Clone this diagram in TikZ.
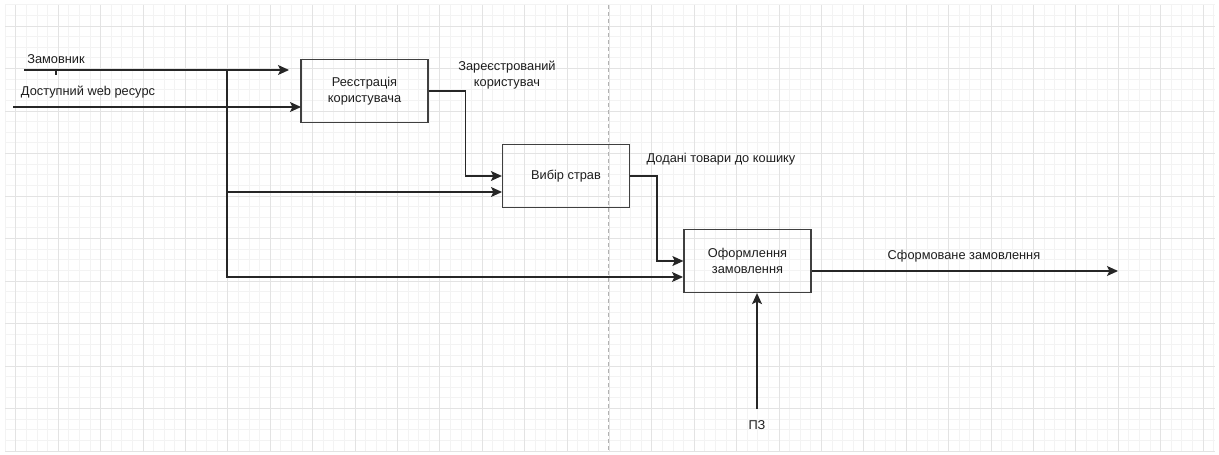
\documentclass[tikz,border=0pt]{standalone}
\usepackage{fontspec}
\setmainfont{Liberation Sans}
\usetikzlibrary{arrows.meta}
\definecolor{gridminor}{HTML}{F3F3F3}
\definecolor{gridmajor}{HTML}{E3E3E3}
\definecolor{ink}{HTML}{1E1E1E}
\tikzset{
  fun/.style={draw=black!75, line width=1.3pt, rectangle, minimum width=127pt, minimum height=63pt, align=center, font=\fontsize{12.8}{16}\selectfont, text=ink, inner sep=0pt},
  lab/.style={align=center, font=\fontsize{12.8}{16}\selectfont, text=ink, inner sep=0pt},
  arr/.style={draw=black!85, line width=1.2pt, -{Stealth[length=11pt,width=10pt,inset=2.5pt]}},
  ln/.style={draw=black!85, line width=1.2pt},
}
\begin{document}
\begin{tikzpicture}[x=1pt,y=-1pt]
\useasboundingbox (0,0) rectangle (1219,455);
\fill[white] (0,0) rectangle (1219,455);
% grid
\foreach \i in {0,...,114} {
  \draw[gridminor, line width=0.8pt] ({5.2+10.6*\i},5) -- ({5.2+10.6*\i},451);
}
\foreach \j in {0,...,42} {
  \draw[gridminor, line width=0.8pt] (5,{4.75+10.625*\j}) -- (1215,{4.75+10.625*\j});
}
\foreach \i in {0,...,28} {
  \draw[gridmajor, line width=0.9pt] ({15.8+42.4*\i},5) -- ({15.8+42.4*\i},451);
}
\foreach \j in {0,...,10} {
  \draw[gridmajor, line width=0.9pt] (5,{26+42.5*\j}) -- (1215,{26+42.5*\j});
}
\draw[black!30, line width=1pt, dash pattern=on 4pt off 3pt] (608,5) -- (608,451);

% boxes
\node[fun] (b1) at (364.5,91) {Реєстрація\\користувача};
\node[fun] (b2) at (566,176) {Вибір страв};
\node[fun] (b3) at (747.5,261) {Оформлення\\замовлення};

% coordinates
\coordinate (zamS) at (24,70);
\coordinate (zamE) at (289,70);
\coordinate (webS) at (13,107);
\coordinate (b1in2) at (301,107);
\coordinate (j) at (227,70);
\coordinate (jb2) at (227,192);
\coordinate (b2in2) at (502,192);
\coordinate (b3in2) at (683,277);
\coordinate (b3out) at (812,271);
\coordinate (outE) at (1118,271);
\coordinate (pzS) at (757,409);
\coordinate (tickA) at (56,70);
\coordinate (tickB) at (56,75);
\coordinate (k1) at (465.5,176);
\coordinate (k2) at (657,261);

% connectors
\draw[arr] (zamS) -- (zamE);
\draw[ln] (tickA) -- (tickB);
\draw[arr] (webS) -- (b1in2);
\draw[ln] (j) -- (jb2);
\draw[arr] (jb2) -- (b2in2);
\draw[arr] (j) |- (b3in2);
\draw[arr] (b1.east) -| (k1) -- (b2.west);
\draw[arr] (b2.east) -| (k2) -- (b3.west);
\draw[arr] (b3out) -- (outE);
\draw[arr] (pzS) -- (b3.south -| pzS);

% labels
\node[lab] (l1) at (56,59) {Замовник};
\node[lab] (l2) at (88,92) {Доступний web ресурс};
\node[lab] (l3) at (507,75) {Зареєстрований\\користувач};
\node[lab] (l4) at (721,159) {Додані товари до кошику};
\node[lab] (l5) at (964,256) {Сформоване замовлення};
\node[lab] (l6) at (757,425) {ПЗ};
\end{tikzpicture}
\end{document}
